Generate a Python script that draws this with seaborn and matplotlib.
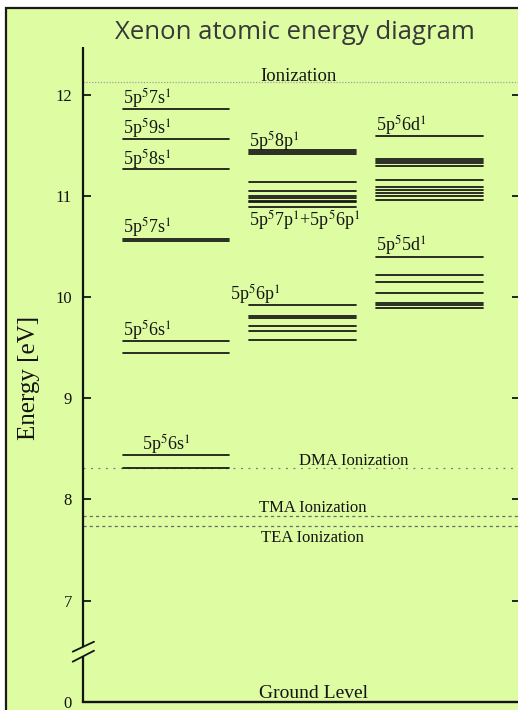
import numpy as np
import pandas as pd
import matplotlib
matplotlib.use("Agg")
import matplotlib.pyplot as plt
from matplotlib.patches import Rectangle
import seaborn as sns

# ---- data -------------------------------------------------------------
# Level energies in eV for the three columns of the diagram
s_levels = [11.86, 11.57, 11.265, 10.58, 10.555, 9.570, 9.447, 8.437, 8.315]
p_levels = [11.46, 11.44, 11.42, 11.135, 11.055, 11.00, 10.985, 10.955,
            10.94, 10.895, 9.926, 9.81, 9.79, 9.715, 9.67, 9.574]
d_levels = [11.597, 11.372, 11.347, 11.324, 11.298, 11.155, 11.095, 11.06,
            11.035, 11.0, 10.965, 10.395, 10.217, 10.15, 10.039, 9.946,
            9.92, 9.893]

# Configuration labels: (column, text, energy of the level it sits on)
config_cols = [0, 0, 0, 0, 0, 0, 1, 1, 1, 2, 2]
config_text = [r"5p$^5$7s$^1$", r"5p$^5$9s$^1$", r"5p$^5$8s$^1$",
               r"5p$^5$7s$^1$", r"5p$^5$6s$^1$", r"5p$^5$6s$^1$",
               r"5p$^5$8p$^1$", r"5p$^5$6p$^1$",
               r"5p$^5$7p$^1$+5p$^5$6p$^1$",
               r"5p$^5$6d$^1$", r"5p$^5$5d$^1$"]
config_energy = [11.86, 11.57, 11.265, 10.58, 9.570, 8.437,
                 11.46, 9.926, 10.895, 11.597, 10.395]

# Ionization thresholds (eV)
ion_names = ["Ionization", "DMA Ionization", "TMA Ionization", "TEA Ionization"]
ion_energies = [12.13, 8.31, 7.84, 7.74]

ticks = [0, 7, 8, 9, 10, 11, 12]
ground_energy = 0.0

# ---- layout / style ---------------------------------------------------
W, H, DPI = 518, 710, 100
BG = "#DEFCA2"
INK = "#141414"
col_span = [(0.0906, 0.3340), (0.3797, 0.6263), (0.6705, 0.9162)]
# per-label pixel offsets (dx from column start, dy of baseline from level)
label_dx = [0, 0, 0, 0, 0, 19, 0, -19, 0, 0, 0]
label_dy = [5, 5, 5, 6, 5, 6, 3, 5, -19, 5, 7]
ion_x = [0.4926, 0.621, 0.5258, 0.5258]
ion_dy = [1, 3, 4, -16]
ion_size = [13.5, 12, 12, 12]
ion_style = [(0, (1, 1.3)), (0, (1.5, 4.5)), (0, (2.5, 2.5)), (0, (2.5, 2.5))]
ion_color = ["#a0a0a0", "#7a7a7a", "#6a6a6a", "#6a6a6a"]

sns.set_theme(style="ticks")
plt.rcParams["font.family"] = ["Liberation Serif", "DejaVu Serif"]
plt.rcParams["mathtext.fontset"] = "stix"
plt.rcParams["axes.unicode_minus"] = False

fig = plt.figure(figsize=(W / DPI, H / DPI), dpi=DPI, facecolor="white")
fig.patches.append(Rectangle((5.5 / W, -0.05), 1.2, 1 - 8 / H + 0.05,
                             transform=fig.transFigure, facecolor=BG,
                             edgecolor="#1a1a1a", lw=1.6, zorder=-5))

ax_left, ax_right, ax_top, ax_bottom = 83, 519.5, 47, 701.7
ax = fig.add_axes([ax_left / W, (H - ax_bottom) / H,
                   (ax_right - ax_left) / W, (ax_bottom - ax_top) / H])
ax.set_facecolor("none")

# ---- energy levels ----------------------------------------------------
rows = []
for c, energies in enumerate([s_levels, p_levels, d_levels]):
    x0, x1 = col_span[c]
    for j, e in enumerate(energies):
        rows.append({"level": f"{c}-{j}", "x": x0, "energy": e})
        rows.append({"level": f"{c}-{j}", "x": x1, "energy": e})
levels_df = pd.DataFrame(rows)

sns.lineplot(data=levels_df, x="x", y="energy", units="level",
             estimator=None, sort=False, color=INK, lw=1.25,
             legend=False, ax=ax)


# compressed region below 6.5 eV so the ground level fits under the break
def fwd(e):
    e = np.asarray(e, dtype=float)
    return np.where(e >= 6.5, e, 6.0 + e / 13.0)


def inv(v):
    v = np.asarray(v, dtype=float)
    return np.where(v >= 6.5, v, (v - 6.0) * 13.0)


ax.set_yscale("function", functions=(fwd, inv))
ax.set_ylim(0, 12.475)
ax.set_xlim(0, 1)

# ionization thresholds
for name, e, xx, dy, fs, ls, colr in zip(ion_names, ion_energies, ion_x,
                                         ion_dy, ion_size, ion_style,
                                         ion_color):
    ax.axhline(e, color=colr, lw=0.9, linestyle=ls, zorder=1)
    ax.annotate(name, xy=(xx, e), xycoords=ax.get_yaxis_transform(),
                xytext=(0, dy), textcoords="offset pixels",
                ha="center", va="baseline", fontsize=fs, color=INK)

# configuration labels
for c, txt, e, dx, dy in zip(config_cols, config_text, config_energy,
                             label_dx, label_dy):
    ax.annotate(txt, xy=(col_span[c][0], e), xytext=(dx, dy),
                textcoords="offset pixels", ha="left", va="baseline",
                fontsize=13, color=INK)

ax.annotate("Ground Level", xy=(0.527, ground_energy),
            xycoords=ax.get_yaxis_transform(), xytext=(0, 4),
            textcoords="offset pixels", ha="center", va="baseline",
            fontsize=14, color=INK)

# ---- axes decoration --------------------------------------------------
for side in ["left", "top", "right"]:
    ax.spines[side].set_visible(False)
ax.spines["bottom"].set_linewidth(1.7)
ax.spines["bottom"].set_color(INK)

ytr = ax.get_yaxis_transform()
ax.plot([0, 0], [6.54, 12.475], transform=ytr, color=INK, lw=1.6,
        clip_on=False, solid_capstyle="butt")
ax.plot([0, 0], [0, 5.85], transform=ytr, color=INK, lw=1.6,
        clip_on=False, solid_capstyle="butt")
# break marks on the energy axis
ax.plot([-0.0236, 0.0252], [0.0764, 0.0916], transform=ax.transAxes,
        color=INK, lw=1.3, clip_on=False)
ax.plot([-0.0236, 0.0252], [0.0611, 0.0779], transform=ax.transAxes,
        color=INK, lw=1.3, clip_on=False)

ax.set_xticks([])
ax.set_yticks(ticks)
ax.set_yticklabels([str(t) for t in ticks])
ax.yaxis.set_minor_locator(matplotlib.ticker.NullLocator())
ax.tick_params(axis="y", which="major", direction="in", length=6,
               width=1.3, color=INK, labelsize=12, labelcolor=INK,
               pad=8, right=True, left=True)
ax.set_xlabel("")
ax.set_ylabel("Energy [eV]", fontsize=18, color=INK, va="center")
ax.yaxis.set_label_coords(-0.1237, 0.4944)

fig.text(295 / W, 1 - 39 / H, "Xenon atomic energy diagram",
         ha="center", va="baseline", fontsize=18.5, color="#383838",
         family=["Open Sans", "DejaVu Sans"])

fig.savefig("out.png", dpi=DPI, facecolor=fig.get_facecolor())
